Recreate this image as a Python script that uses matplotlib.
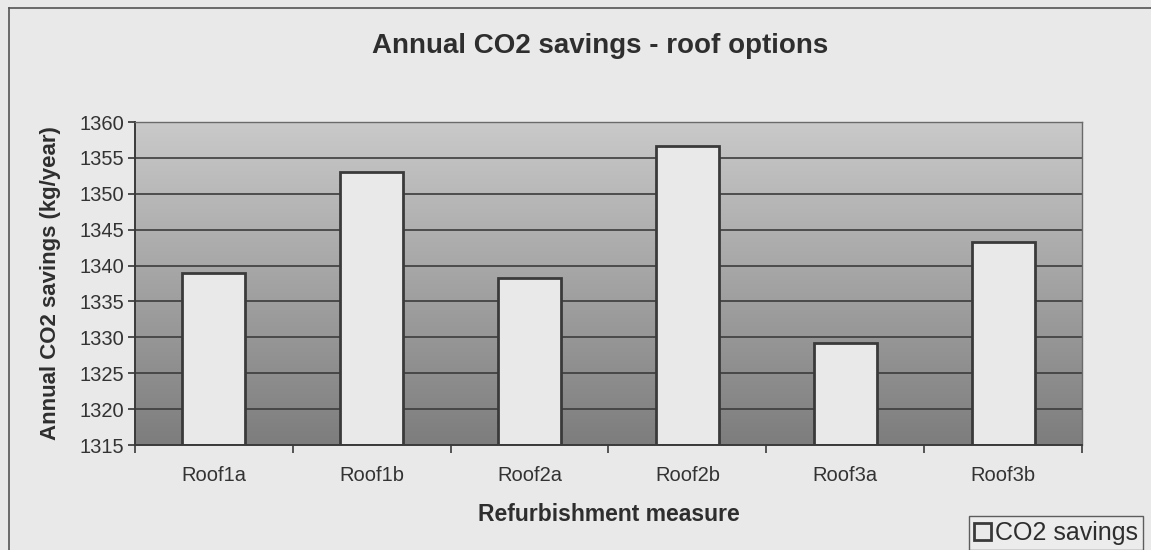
import matplotlib.pyplot as plt
import numpy as np
from matplotlib.lines import Line2D

# values
categories = ['Roof1a', 'Roof1b', 'Roof2a', 'Roof2b', 'Roof3a', 'Roof3b']
savings = [1338.9, 1353.0, 1338.2, 1356.6, 1329.2, 1343.3]
y_ticks = [1315, 1320, 1325, 1330, 1335, 1340, 1345, 1350, 1355, 1360]

W, H = 1151, 550
fig = plt.figure(figsize=(W / 100, H / 100), dpi=100)
fig.patch.set_facecolor('#e9e9e9')
plt.rcParams['font.family'] = ['Liberation Sans', 'DejaVu Sans']

# plot area in pixel coords: x 135-1082, y 122-445
ax = fig.add_axes([135 / W, 1 - 445 / H, (1082 - 135) / W, (445 - 122) / H])

# vertical gray gradient behind everything (dark at bottom, light at top)
shade = np.linspace(0.49, 0.79, 256)
grad = np.dstack([shade, shade, shade]).reshape(-1, 1, 3)
ax.imshow(grad, extent=[0, 1, 0, 1], transform=ax.transAxes, aspect='auto',
          origin='lower', zorder=0)

for t in y_ticks[1:-1]:
    ax.axhline(t, color='#3c3c3c', lw=1.2, zorder=1)

x = np.arange(len(categories))
ax.bar(x, [v - y_ticks[0] for v in savings], bottom=y_ticks[0], width=0.4,
       color='#e9e9e9', edgecolor='#3a3a3a', linewidth=2, zorder=2,
       label='CO2 savings')

ax.set_xlim(-0.5, len(categories) - 0.5)
ax.set_ylim(y_ticks[0], y_ticks[-1])
ax.set_yticks(y_ticks)
ax.tick_params(axis='y', labelsize=14.5, colors='#333333', length=5, width=1.2, pad=3)
ax.set_xticks(np.arange(-0.5, len(categories), 1.0))
ax.set_xticklabels([])
ax.set_xticks(x, labels=categories, minor=True)
ax.tick_params(axis='x', which='major', length=6, width=1.2, color='#3a3a3a')
ax.tick_params(axis='x', which='minor', length=0, labelsize=14.5, colors='#333333', pad=15)

for side in ['top', 'right']:
    ax.spines[side].set_color('#6a6a6a')
    ax.spines[side].set_linewidth(1)
for side in ['left', 'bottom']:
    ax.spines[side].set_color('#3a3a3a')
    ax.spines[side].set_linewidth(1.4)

ax.set_ylabel('Annual CO2 savings (kg/year)', fontsize=16, fontweight='bold',
              color='#2e2e2e', labelpad=13)
ax.set_xlabel('Refurbishment measure', fontsize=16.5, fontweight='bold',
              color='#2e2e2e', labelpad=13)
fig.text(600 / W, 1 - 46 / H, 'Annual CO2 savings - roof options', fontsize=20,
         fontweight='bold', color='#2e2e2e', ha='center', va='center')

# outer chart border
fig.add_artist(Line2D([9 / W, 9 / W], [0, 1 - 8 / H], color='#555555', lw=1.2))
fig.add_artist(Line2D([9 / W, 1], [1 - 8 / H, 1 - 8 / H], color='#555555', lw=1.2))

leg = fig.legend(loc='upper right', bbox_to_anchor=(1143 / W, 1 - 516 / H),
                 fontsize=18, frameon=True, fancybox=False, handlelength=0.7,
                 handleheight=0.7, handletextpad=0.15, borderpad=0.2,
                 borderaxespad=0)
leg.get_frame().set_edgecolor('#3a3a3a')
leg.get_frame().set_facecolor('#ededed')
for txt in leg.get_texts():
    txt.set_color('#2e2e2e')

fig.savefig('out.png', dpi=100, facecolor=fig.get_facecolor())
